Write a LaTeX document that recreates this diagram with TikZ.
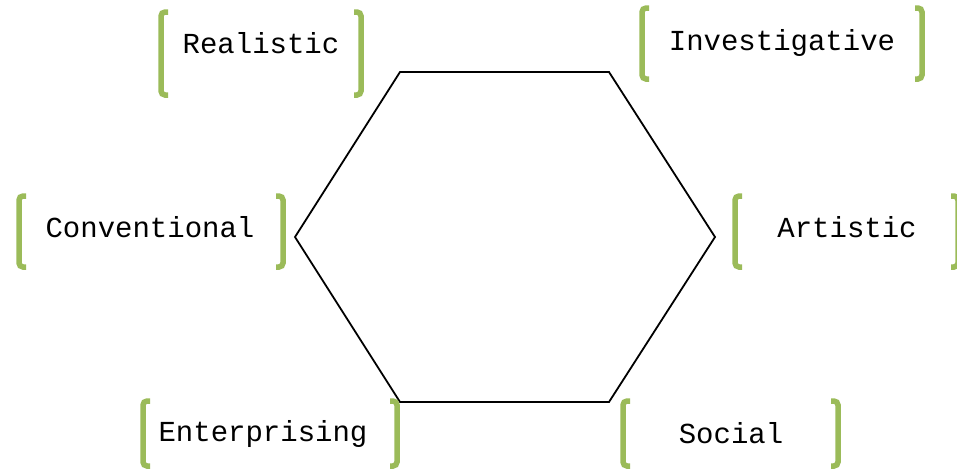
\documentclass[tikz,border=0pt]{standalone}
\usepackage{fontspec}
\setmonofont{Liberation Mono}
\definecolor{bracketgreen}{HTML}{9BBB59}

\begin{document}
\begin{tikzpicture}[x=1pt,y=-1pt,
  typelabel/.style={font=\ttfamily\fontsize{29}{29}\selectfont,inner sep=0pt,anchor=base},
  bracketline/.style={bracketgreen,line width=5.5pt,rounded corners=4pt}]
  \useasboundingbox (0,0) rectangle (957,469);
  % hexagon
  \draw[line width=1.8pt,line join=miter]
    (400,72) -- (609,72) -- (715,237) -- (609,402) -- (400,402) -- (295,237) -- cycle;
  % labels with their bracket pairs
  \foreach \name/\txt/\x/\y/\l/\r/\t/\b in {
      realistic/Realistic/261/53/161/361/12/95,
      investigative/Investigative/782/50/642/922/8/79,
      conventional/Conventional/150/237/19/283/196/267,
      artistic/Artistic/847/237/735/958/196/267,
      enterprising/Enterprising/263/441/143/397/401/466,
      social/Social/731/443/623/838/401/466} {
    \node[typelabel] (\name) at (\x,\y) {\txt};
    \draw[bracketline] (\l+7,\t) -- (\l,\t) -- (\l,\b) -- (\l+7,\b);
    \draw[bracketline] (\r-7,\t) -- (\r,\t) -- (\r,\b) -- (\r-7,\b);
  }
\end{tikzpicture}
\end{document}
